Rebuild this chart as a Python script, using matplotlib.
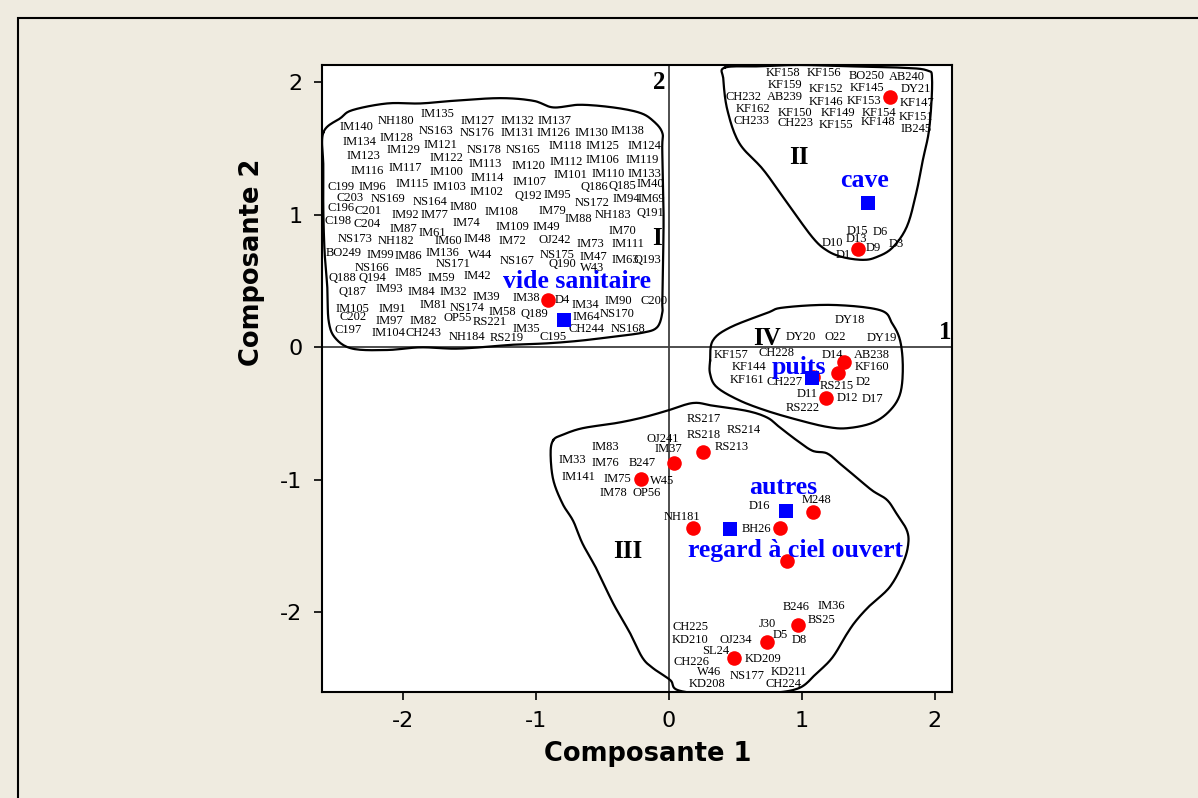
import numpy as np
import matplotlib
matplotlib.use("Agg")
import matplotlib.pyplot as plt
from matplotlib.patches import Rectangle

plt.rcParams["axes.unicode_minus"] = False

# observation labels (name, comp1, comp2)
labels_I = [
    ("IM140", -2.35, 1.66), ("NH180", -2.05, 1.71), ("IM135", -1.74, 1.76), ("IM127", -1.44, 1.71),
    ("IM132", -1.14, 1.71), ("IM137", -0.86, 1.71), ("IM134", -2.33, 1.55), ("IM128", -2.05, 1.58),
    ("NS163", -1.75, 1.63), ("NS176", -1.44, 1.62), ("IM131", -1.14, 1.62), ("IM126", -0.87, 1.62),
    ("IM130", -0.58, 1.62), ("IM138", -0.31, 1.63), ("IM123", -2.30, 1.44), ("IM129", -2.00, 1.49),
    ("IM121", -1.72, 1.53), ("NS178", -1.39, 1.49), ("NS165", -1.10, 1.49), ("IM118", -0.78, 1.52),
    ("IM125", -0.50, 1.52), ("IM124", -0.18, 1.52), ("IM116", -2.27, 1.33), ("IM117", -1.98, 1.35),
    ("IM122", -1.67, 1.43), ("IM113", -1.38, 1.38), ("IM120", -1.06, 1.37), ("IM112", -0.77, 1.40),
    ("IM106", -0.50, 1.41), ("IM119", -0.20, 1.41), ("IM100", -1.67, 1.32), ("IM101", -0.74, 1.30),
    ("IM110", -0.46, 1.31), ("IM133", -0.18, 1.31), ("C199", -2.47, 1.21), ("IM96", -2.23, 1.21),
    ("IM115", -1.93, 1.23), ("IM103", -1.65, 1.21), ("IM114", -1.37, 1.28), ("IM107", -1.05, 1.25),
    ("Q186", -0.56, 1.21), ("Q185", -0.35, 1.22), ("IM40", -0.14, 1.23), ("C203", -2.40, 1.13),
    ("NS169", -2.11, 1.12), ("NS164", -1.80, 1.10), ("IM102", -1.37, 1.17), ("Q192", -1.06, 1.14),
    ("IM95", -0.84, 1.15), ("NS172", -0.58, 1.09), ("IM94", -0.32, 1.12), ("IM69", -0.13, 1.12),
    ("C196", -2.47, 1.05), ("C201", -2.26, 1.03), ("IM92", -1.98, 1.00), ("IM77", -1.76, 1.00),
    ("IM80", -1.55, 1.06), ("IM108", -1.26, 1.02), ("IM79", -0.88, 1.03), ("IM88", -0.68, 0.97),
    ("NH183", -0.42, 1.00), ("Q191", -0.14, 1.01), ("C198", -2.49, 0.95), ("C204", -2.27, 0.93),
    ("IM87", -2.00, 0.89), ("IM61", -1.78, 0.86), ("IM74", -1.52, 0.94), ("IM109", -1.18, 0.91),
    ("IM49", -0.92, 0.91), ("IM70", -0.35, 0.88), ("NS173", -2.36, 0.82), ("NH182", -2.05, 0.80),
    ("IM60", -1.66, 0.80), ("IM48", -1.44, 0.82), ("IM72", -1.18, 0.80), ("OJ242", -0.86, 0.81),
    ("IM73", -0.59, 0.78), ("IM111", -0.31, 0.78), ("BO249", -2.45, 0.71), ("IM99", -2.17, 0.70),
    ("IM86", -1.96, 0.69), ("IM136", -1.70, 0.71), ("W44", -1.42, 0.70), ("NS175", -0.84, 0.70),
    ("IM47", -0.57, 0.68), ("NS167", -1.14, 0.65), ("Q190", -0.80, 0.63), ("IM63", -0.33, 0.66),
    ("Q193", -0.16, 0.66), ("NS166", -2.23, 0.60), ("NS171", -1.62, 0.63), ("W43", -0.58, 0.60),
    ("Q188", -2.46, 0.52), ("Q194", -2.23, 0.52), ("IM85", -1.96, 0.56), ("IM59", -1.71, 0.52),
    ("IM42", -1.44, 0.54), ("Q187", -2.38, 0.42), ("IM93", -2.10, 0.44), ("IM84", -1.86, 0.42),
    ("IM32", -1.62, 0.42), ("IM39", -1.37, 0.38), ("IM38", -1.07, 0.37), ("D4", -0.80, 0.36),
    ("IM34", -0.63, 0.32), ("IM90", -0.38, 0.35), ("C200", -0.11, 0.35), ("IM105", -2.38, 0.29),
    ("IM91", -2.08, 0.29), ("IM81", -1.77, 0.32), ("NS174", -1.52, 0.30), ("IM58", -1.25, 0.27),
    ("Q189", -1.01, 0.25), ("IM64", -0.62, 0.23), ("NS170", -0.39, 0.25), ("C202", -2.38, 0.23),
    ("IM97", -2.10, 0.20), ("IM82", -1.85, 0.20), ("OP55", -1.59, 0.22), ("RS221", -1.35, 0.19),
    ("IM35", -1.07, 0.14), ("CH244", -0.62, 0.14), ("NS168", -0.31, 0.14), ("C197", -2.41, 0.13),
    ("IM104", -2.11, 0.11), ("CH243", -1.85, 0.11), ("NH184", -1.52, 0.08), ("RS219", -1.22, 0.07),
    ("C195", -0.87, 0.08),
]

labels_II = [
    ("KF158", 0.86, 2.07), ("KF156", 1.17, 2.07), ("BO250", 1.49, 2.05), ("AB240", 1.79, 2.04),
    ("KF159", 0.87, 1.98), ("KF152", 1.18, 1.95), ("KF145", 1.49, 1.96), ("DY21", 1.86, 1.95),
    ("CH232", 0.56, 1.89), ("AB239", 0.87, 1.89), ("KF146", 1.18, 1.85), ("KF153", 1.47, 1.86),
    ("KF147", 1.87, 1.84), ("KF162", 0.63, 1.80), ("KF150", 0.95, 1.77), ("KF149", 1.27, 1.77),
    ("KF154", 1.58, 1.77), ("KF151", 1.86, 1.74), ("CH233", 0.62, 1.71), ("CH223", 0.95, 1.69),
    ("KF155", 1.26, 1.68), ("KF148", 1.57, 1.70), ("IB245", 1.86, 1.65),
    ("D15", 1.42, 0.88), ("D6", 1.59, 0.87), ("D10", 1.23, 0.79), ("D13", 1.41, 0.82),
    ("D3", 1.71, 0.78), ("D9", 1.54, 0.75), ("D1", 1.31, 0.70),
]

labels_IV = [
    ("DY18", 1.36, 0.21), ("DY20", 0.99, 0.08), ("O22", 1.25, 0.08), ("DY19", 1.60, 0.07),
    ("KF157", 0.47, -0.06), ("CH228", 0.81, -0.04), ("D14", 1.23, -0.06), ("AB238", 1.53, -0.06),
    ("KF144", 0.60, -0.15), ("KF160", 1.53, -0.15), ("KF161", 0.59, -0.25), ("CH227", 0.87, -0.26),
    ("RS215", 1.26, -0.29), ("D2", 1.46, -0.26), ("D11", 1.04, -0.35), ("D12", 1.34, -0.38),
    ("D17", 1.53, -0.39), ("RS222", 1.01, -0.46),
]

labels_III = [
    ("RS217", 0.26, -0.54), ("RS214", 0.56, -0.62), ("OJ241", -0.05, -0.69), ("RS218", 0.26, -0.66),
    ("RS213", 0.47, -0.75), ("IM83", -0.48, -0.75), ("IM37", 0.00, -0.77), ("IM33", -0.73, -0.85),
    ("IM76", -0.48, -0.87), ("B247", -0.20, -0.87), ("IM141", -0.68, -0.98), ("IM75", -0.39, -0.99),
    ("W45", -0.05, -1.01), ("IM78", -0.42, -1.10), ("OP56", -0.17, -1.10), ("D16", 0.68, -1.20),
    ("M248", 1.11, -1.15), ("NH181", 0.10, -1.28), ("BH26", 0.66, -1.37), ("B246", 0.96, -1.96),
    ("IM36", 1.22, -1.95), ("BS25", 1.15, -2.06), ("CH225", 0.16, -2.11), ("J30", 0.74, -2.09),
    ("D5", 0.84, -2.17), ("D8", 0.98, -2.21), ("KD210", 0.16, -2.21), ("OJ234", 0.50, -2.21),
    ("SL24", 0.35, -2.29), ("KD209", 0.71, -2.35), ("CH226", 0.17, -2.37), ("W46", 0.30, -2.45),
    ("NS177", 0.59, -2.48), ("KD211", 0.90, -2.45), ("KD208", 0.29, -2.54), ("CH224", 0.86, -2.54),
]

# red points (supplementary individuals)
red_x = [-0.91, 1.66, 1.42, 1.316, 1.27, 1.083, 1.18, 0.256, 0.04, -0.21,
         1.083, 0.18, 0.835, 0.887, 0.97, 0.737, 0.489]
red_y = [0.355, 1.887, 0.74, -0.113, -0.19, -0.226, -0.385, -0.79, -0.87, -0.99,
         -1.245, -1.366, -1.366, -1.615, -2.098, -2.226, -2.347]

# blue squares (modalities)
mod_names = ["vide sanitaire", "cave", "puits", "autres", "regard à ciel ouvert"]
mod_x = [-0.79, 1.496, 1.075, 0.88, 0.459]
mod_y = [0.204, 1.087, -0.234, -1.238, -1.374]
mod_lab_x = [-0.69, 1.47, 0.98, 0.86, 0.95]
mod_lab_y = [0.50, 1.26, -0.15, -1.06, -1.53]

group_names = ["I", "II", "III", "IV", "1", "2"]
group_x = [-0.09, 0.98, -0.31, 0.74, 2.08, -0.07]
group_y = [0.82, 1.43, -1.54, 0.07, 0.11, 2.00]

# hand drawn cluster outlines
hull_I = [(-2.60, 1.62), (-2.47, 1.73), (-2.38, 1.79), (-2.12, 1.84), (-1.87, 1.84), (-1.62, 1.86),
          (-1.27, 1.88), (-1.02, 1.86), (-0.87, 1.81), (-0.67, 1.83), (-0.42, 1.81), (-0.22, 1.77),
          (-0.12, 1.71), (-0.05, 1.62), (-0.05, 1.49), (-0.04, 0.96), (-0.05, 0.38), (-0.05, 0.26),
          (-0.09, 0.15), (-0.20, 0.11), (-0.42, 0.08), (-0.67, 0.05), (-0.92, 0.03), (-1.17, 0.02),
          (-1.42, 0.0), (-1.62, -0.01), (-1.87, 0.0), (-2.12, -0.02), (-2.38, -0.01), (-2.51, 0.07),
          (-2.56, 0.20), (-2.57, 0.45), (-2.59, 0.71), (-2.60, 1.03), (-2.60, 1.36)]
hull_II = [(0.42, 2.11), (0.68, 2.12), (0.98, 2.13), (1.36, 2.12), (1.74, 2.11), (1.94, 2.09),
           (1.98, 2.02), (1.96, 1.66), (1.91, 1.41), (1.86, 1.16), (1.79, 0.91), (1.68, 0.75),
           (1.56, 0.68), (1.46, 0.66), (1.31, 0.68), (1.19, 0.73), (1.08, 0.83), (0.89, 1.09),
           (0.71, 1.34), (0.53, 1.54), (0.44, 1.79), (0.41, 2.02)]
hull_IV = [(0.31, -0.10), (0.33, 0.05), (0.46, 0.15), (0.74, 0.26), (0.86, 0.30), (1.23, 0.32),
           (1.59, 0.28), (1.68, 0.18), (1.74, 0.05), (1.76, -0.15), (1.74, -0.35), (1.66, -0.48),
           (1.53, -0.57), (1.34, -0.61), (1.19, -0.60), (0.98, -0.55), (0.74, -0.48), (0.53, -0.40),
           (0.36, -0.30), (0.31, -0.20)]
hull_III = [(-0.87, -0.70), (-0.80, -0.66), (-0.65, -0.61), (-0.39, -0.57), (-0.20, -0.53),
            (-0.02, -0.48), (0.18, -0.42), (0.33, -0.44), (0.59, -0.48), (0.74, -0.53),
            (0.83, -0.60), (0.96, -0.70), (1.08, -0.78), (1.19, -0.80), (1.29, -0.88),
            (1.41, -0.98), (1.53, -1.08), (1.64, -1.15), (1.71, -1.25), (1.79, -1.38),
            (1.80, -1.49), (1.76, -1.63), (1.66, -1.81), (1.51, -1.95), (1.41, -2.06),
            (1.34, -2.16), (1.23, -2.34), (1.11, -2.46), (0.98, -2.57), (0.76, -2.61),
            (0.44, -2.63), (0.08, -2.59), (0.01, -2.51), (-0.12, -2.42), (-0.20, -2.34),
            (-0.29, -2.16), (-0.42, -1.93), (-0.54, -1.68), (-0.65, -1.48), (-0.72, -1.31),
            (-0.80, -1.18), (-0.87, -1.00), (-0.89, -0.80)]


def smooth_closed(pts, n=12):
    # closed Catmull-Rom curve through the outline points
    p = np.array(pts, dtype=float)
    out = []
    m = len(p)
    for i in range(m):
        p0, p1, p2, p3 = p[i - 1], p[i], p[(i + 1) % m], p[(i + 2) % m]
        for t in np.linspace(0, 1, n, endpoint=False):
            t2, t3 = t * t, t * t * t
            out.append(0.5 * ((2 * p1) + (-p0 + p2) * t
                              + (2 * p0 - 5 * p1 + 4 * p2 - p3) * t2
                              + (-p0 + 3 * p1 - 3 * p2 + p3) * t3))
    out.append(out[0])
    return np.array(out)


fig = plt.figure(figsize=(11.98, 7.98), dpi=100)
fig.patch.set_facecolor("#efebe0")
fig.patches.append(Rectangle((18 / 1198, -0.1), 1.2, 1 - 18 / 798 + 0.1, transform=fig.transFigure,
                             fill=False, edgecolor="black", linewidth=1.5))

ax = fig.add_axes([322 / 1198, 1 - 692 / 798, 630 / 1198, 627 / 798])
ax.set_facecolor("white")
ax.set_xlim(-2.61, 2.13)
ax.set_ylim(-2.60, 2.13)

ax.axhline(0, color="#404040", linewidth=1.3, zorder=1)
ax.axvline(0, color="#404040", linewidth=1.3, zorder=1)

for hull in [hull_I, hull_II, hull_III, hull_IV]:
    c = smooth_closed(hull)
    ax.plot(c[:, 0], c[:, 1], color="black", linewidth=1.6, zorder=2)

serif = ["Liberation Serif", "DejaVu Serif"]
for group in [labels_I, labels_II, labels_III, labels_IV]:
    for name, x, y in group:
        ax.text(x, y, name, fontsize=9, family=serif, ha="center", va="center", zorder=3)

ax.plot(red_x, red_y, "o", color="red", markersize=10.5, markeredgewidth=0, zorder=4)
ax.plot(mod_x, mod_y, "s", color="blue", markersize=10, markeredgewidth=0, zorder=4)

for name, x, y in zip(mod_names, mod_lab_x, mod_lab_y):
    ax.text(x, y, name, fontsize=18.5, family=serif, fontweight="bold", color="blue",
            ha="center", va="center", zorder=5)

for name, x, y in zip(group_names, group_x, group_y):
    ax.text(x, y, name, fontsize=18, family=serif, fontweight="bold", color="black",
            ha="center", va="center", zorder=5)

ax.set_xticks([-2, -1, 0, 1, 2])
ax.set_yticks([-2, -1, 0, 1, 2])
ax.tick_params(direction="out", length=6, width=1.2, labelsize=16, pad=8)
for s in ax.spines.values():
    s.set_linewidth(1.5)

ax.set_xlabel("Composante 1", fontsize=18.5, fontweight="bold")
ax.set_ylabel("Composante 2", fontsize=18.5, fontweight="bold")
ax.xaxis.set_label_coords(0.517, -0.078)
ax.yaxis.set_label_coords(-0.09, 0.686)

fig.savefig("out.png", dpi=100, facecolor=fig.get_facecolor())
